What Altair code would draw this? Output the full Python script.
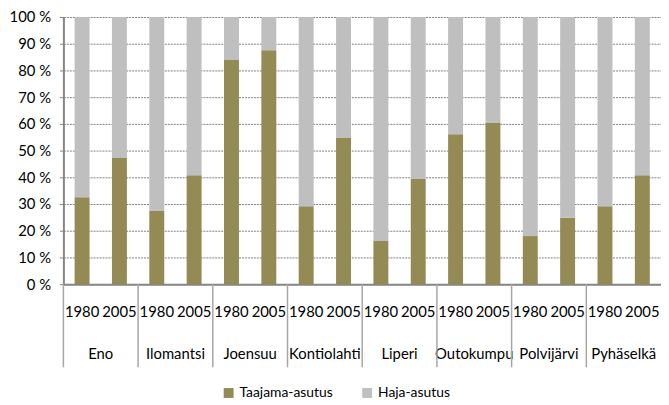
import altair as alt
import pandas as pd

municipalities = ["Eno", "Ilomantsi", "Joensuu", "Kontiolahti", "Liperi",
                  "Outokumpu", "Polvijärvi", "Pyhäselkä"]
years = ["1980", "2005"]
taajama_1980 = [32.5, 27.4, 83.9, 29.2, 16.2, 56.1, 18.0, 29.2]
taajama_2005 = [47.2, 40.8, 87.6, 54.7, 39.4, 60.3, 24.9, 40.8]
haja_1980 = [67.5, 72.6, 16.1, 70.8, 83.8, 43.9, 82.0, 70.8]
haja_2005 = [52.8, 59.2, 12.4, 45.3, 60.6, 39.7, 75.1, 59.2]
series = ["Taajama-asutus", "Haja-asutus"]
colors = ["#948A54", "#BFBFBF"]

rows = []
for i, m in enumerate(municipalities):
    for y, t, h in ((years[0], taajama_1980[i], haja_1980[i]),
                    (years[1], taajama_2005[i], haja_2005[i])):
        rows.append({"kunta": m, "vuosi": y, "sarja": series[0], "arvo": t, "jarj": 0})
        rows.append({"kunta": m, "vuosi": y, "sarja": series[1], "arvo": h, "jarj": 1})
df = pd.DataFrame(rows)
labels_df = pd.DataFrame([{"kunta": m, "vuosi": y} for m in municipalities for y in years])
sep_df = pd.DataFrame({"kunta": municipalities})

FONT = "Lato"
W, H = 604, 270

x_enc = alt.X("kunta:N", sort=municipalities,
              scale=alt.Scale(paddingInner=0, paddingOuter=0),
              axis=alt.Axis(title=None, labelAngle=0, ticks=False,
                            labelPadding=70, labelBaseline="middle", labelAlign="center",
                            labelFontSize=15, labelColor="#000000", labelFont=FONT,
                            domainColor="#868686", domainWidth=2))
xo_enc = alt.XOffset("vuosi:N", sort=years,
                     scale=alt.Scale(paddingInner=0.6, paddingOuter=0.3))

bars = alt.Chart(df).mark_bar().encode(
    x=x_enc,
    xOffset=xo_enc,
    y=alt.Y("arvo:Q", stack="zero",
            scale=alt.Scale(domain=[0, 100], nice=False),
            axis=alt.Axis(title=None, values=[0, 10, 20, 30, 40, 50, 60, 70, 80, 90, 100],
                          labelExpr="datum.value + ' %'",
                          labelFontSize=15, labelColor="#000000", labelFont=FONT,
                          labelPadding=9,
                          tickSize=4, tickColor="#868686",
                          domainColor="#868686", domainWidth=2,
                          grid=True, gridColor="#7f7f7f", gridDash=[2, 1], gridWidth=1)),
    color=alt.Color("sarja:N", sort=series,
                    scale=alt.Scale(domain=series, range=colors),
                    legend=alt.Legend(title=None, orient="none", direction="horizontal",
                                      legendX=160, legendY=373,
                                      symbolType="square", symbolSize=100,
                                      symbolStrokeWidth=0,
                                      labelFontSize=14, labelFont=FONT, labelColor="#000000",
                                      columnPadding=27, labelOffset=4)),
    order=alt.Order("jarj:Q", sort="ascending"),
)

year_text = alt.Chart(labels_df).mark_text(
    fontSize=15, font=FONT, color="#000000", baseline="middle", align="center"
).encode(
    x=alt.X("kunta:N", sort=municipalities),
    xOffset=alt.XOffset("vuosi:N", sort=years),
    y=alt.value(H + 28),
    text="vuosi:N",
)

seps = alt.Chart(sep_df).mark_rule(color="#a6a6a6", strokeWidth=1.5).encode(
    x=alt.X("kunta:N", sort=municipalities, bandPosition=0),
    y=alt.value(H),
    y2=alt.value(H + 84),
)

chart = alt.layer(seps, bars, year_text).properties(
    width=W, height=H,
    autosize=alt.AutoSizeParams(type="none"),
    padding={"left": 56, "top": 7, "right": 0, "bottom": 119},
).configure_view(stroke=None)

chart.save("out.html", embed_options={"renderer": "svg", "actions": False})
